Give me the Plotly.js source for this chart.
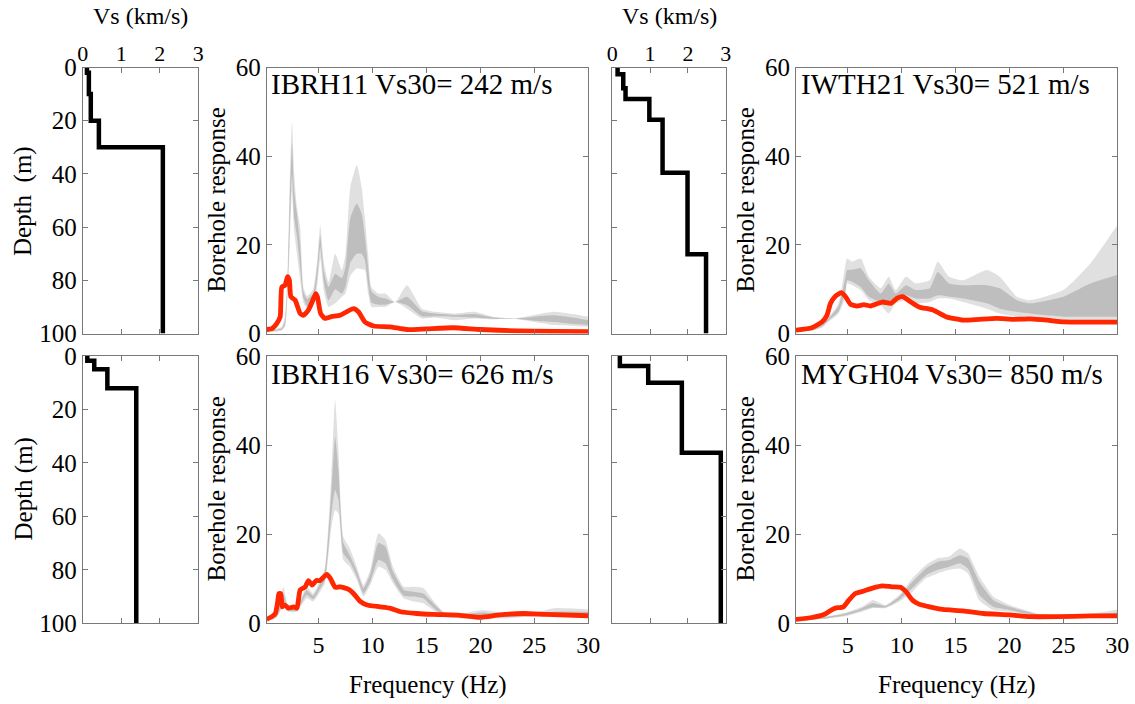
<!DOCTYPE html>
<html>
<head>
<meta charset="utf-8">
<script src="https://cdn.plot.ly/plotly-3.0.1.min.js"></script>
<style>html,body{margin:0;padding:0;background:#fff}#chart{width:1135px;height:704px}</style>
</head>
<body>
<div id="chart"></div>
<script>
// ---------------- Vs profiles (layer top depth in m, Vs in km/s) ----------------
const ibrh11Tops = [0, 2, 10, 20, 30];
const ibrh11Vs   = [0.11, 0.16, 0.21, 0.42, 2.08];
const iwth21Tops = [0, 2.5, 7.8, 11.8, 19.6, 39.6, 70.2];
const iwth21Vs   = [0.14, 0.29, 0.35, 0.98, 1.33, 1.99, 2.48];
const ibrh16Tops = [0, 1.8, 5, 12.1];
const ibrh16Vs   = [0.12, 0.3, 0.64, 1.39];
const mygh04Tops = [0, 3.7, 10, 36.2];
const mygh04Vs   = [0.2, 0.95, 1.84, 2.87];

// ---------------- Borehole response: IBRH11 ----------------
const ibrh11F       = [0.2, 1.0, 1.6, 1.9, 2.1, 2.3, 2.54, 2.75, 3.0, 3.3, 3.6, 3.95, 4.5, 4.9, 5.16, 5.5, 5.93, 6.55, 7.17, 7.5, 7.95, 8.55, 9.0, 9.3, 9.6, 9.9, 10.55, 11.2, 12.1, 13.2, 14.6, 15.8, 17.6, 19.4, 21.2, 23.1, 25.0, 26.8, 28.5, 30];
const ibrh11LightHi = [0.8, 1.0, 1.5, 4, 12, 30, 48, 36, 28.6, 24, 10.5, 8.5, 10, 17, 24.4, 16, 11.6, 18, 14.3, 18, 33, 38, 33, 26, 18, 10.5, 9.0, 9.0, 7.1, 10.9, 5.6, 4.9, 4.5, 4.9, 3.8, 3.4, 4.2, 4.9, 4.4, 3.8];
const ibrh11DarkHi  = [0.6, 0.8, 1.2, 3, 10, 26, 43, 32, 27, 20, 9.5, 7.8, 9, 15.5, 22.1, 14, 10.5, 13.5, 12.5, 15, 26, 29.3, 27, 21.8, 15, 9.5, 8.3, 7.9, 7.1, 8.3, 5.0, 4.5, 4.2, 4.4, 3.6, 3.4, 3.8, 4.1, 3.6, 3.0];
const ibrh11DarkLo  = [0.4, 0.6, 0.9, 2, 8, 20, 36, 26, 22, 15, 8, 6.2, 7, 13, 19.5, 11.5, 7.5, 10, 9, 10.5, 16, 18, 18, 16.5, 11, 7, 6.5, 6.5, 7.1, 6.4, 3.9, 3.9, 3.8, 3.6, 3.3, 3.3, 2.9, 2.6, 2.2, 1.9];
const ibrh11LightLo = [0.3, 0.4, 0.7, 1.5, 7, 18, 32, 23, 18, 12, 7, 5.5, 6, 11, 16.9, 9.5, 6, 6.8, 8.3, 9, 13, 14.7, 14.5, 14.3, 9, 6, 6, 6, 7.1, 5.6, 3.4, 3.6, 3.0, 3.4, 3.2, 3.3, 2.6, 1.9, 1.7, 1.5];
const ibrh11RedF = [0.2, 0.68, 1.14, 1.45, 1.6, 1.9, 2.13, 2.3, 2.44, 2.84, 3.3, 3.6, 4.07, 4.54, 4.75, 4.9, 5.2, 5.6, 6.2, 7.0, 7.6, 8.24, 8.7, 9.3, 10.1, 11.6, 13.2, 15.0, 17.5, 20, 23.4, 26.8, 30];
const ibrh11Red  = [0.9, 1.1, 2.3, 3.8, 10.5, 10.9, 12.8, 12, 8.3, 7.5, 4.5, 4.1, 5.3, 7.9, 9.0, 8.3, 4.5, 3.4, 3.8, 4.1, 4.9, 5.6, 4.9, 2.6, 1.7, 1.5, 0.9, 1.05, 1.3, 0.9, 0.6, 0.5, 0.4];

// ---------------- Borehole response: IWTH21 ----------------
const iwth21F       = [0.2, 1.7, 2.6, 3.2, 4.15, 4.8, 4.94, 5.4, 6.2, 6.96, 8.05, 8.8, 9.45, 10.4, 11.3, 12.6, 13.35, 14.4, 15.7, 17.9, 19.1, 20.7, 21.9, 25, 27.5, 30];
const iwth21LightHi = [0.7, 1.2, 2.3, 3.6, 6.8, 15.8, 16.9, 16.2, 16.9, 12.8, 10.2, 12.8, 9.8, 12.8, 11.3, 12, 16.2, 12.8, 12, 14.3, 12.8, 8.3, 7.5, 9.8, 15.8, 24.4];
const iwth21DarkHi  = [0.6, 1.0, 2.0, 3.3, 6.2, 12.8, 14.3, 14.4, 14.7, 12, 9.0, 11.3, 9.0, 10.9, 9.8, 10.2, 13.9, 11.3, 10.9, 10.9, 10.2, 7.5, 6.8, 8.3, 11.3, 13.2];
const iwth21DarkLo  = [0.5, 0.8, 1.6, 2.9, 5.0, 9.8, 12, 11.7, 10.5, 8.3, 7.1, 6.8, 7.5, 8.6, 7.9, 7.9, 8.6, 8.3, 7.9, 6.8, 5.6, 4.9, 4.5, 3.8, 3.8, 3.8];
const iwth21LightLo = [0.4, 0.6, 1.3, 2.6, 4.5, 8.3, 11.3, 10.9, 9.8, 7.5, 6.4, 4.5, 6.8, 7.5, 6.8, 7.1, 7.9, 7.9, 7.1, 5.6, 4.5, 3.8, 3.4, 3.0, 2.9, 2.9];
const iwth21RedF = [0.2, 1.67, 2.6, 3.07, 3.4, 3.85, 4.38, 4.8, 5.25, 5.87, 6.5, 7.1, 8.2, 9.0, 9.6, 10.1, 10.85, 11.6, 12.9, 14.1, 15.7, 17.2, 18.8, 20.4, 21.9, 23.5, 25, 27.5, 30];
const iwth21Red  = [0.75, 1.3, 2.6, 4.1, 6.8, 8.4, 9.2, 8.3, 6.6, 6.2, 6.5, 6.2, 7.1, 6.8, 8.0, 8.3, 7.1, 6.0, 5.3, 3.8, 3.0, 3.2, 3.4, 3.2, 3.3, 3.0, 2.6, 2.55, 2.55];

// ---------------- Borehole response: IBRH16 ----------------
const ibrh16F       = [0.2, 1.1, 1.76, 2.2, 3.0, 3.9, 4.5, 5.15, 5.6, 6.2, 6.54, 6.85, 7.3, 7.9, 8.55, 9.17, 9.8, 10.55, 11.2, 11.9, 12.9, 13.8, 14.7, 15.6, 16.6, 18.1, 20.3, 22.4, 24.9, 26.8, 30];
const ibrh16LightHi = [1.0, 2.0, 8.2, 3.7, 3.7, 8.2, 6.7, 9.7, 12.7, 33.7, 50.1, 38.9, 19.4, 16.8, 12.7, 8.6, 12, 20.2, 18.7, 12.7, 8.2, 8.2, 7.9, 5.2, 2.6, 2.2, 3.0, 2.2, 2.4, 3.4, 3.1];
const ibrh16DarkHi  = [0.9, 1.8, 6.5, 3.4, 3.4, 7.5, 6.2, 9.0, 11.8, 29.9, 41.9, 34.4, 18.0, 15.3, 11.8, 7.9, 11.0, 18.0, 17.2, 11.6, 7.5, 7.1, 6.7, 4.6, 2.3, 1.9, 2.4, 1.8, 2.1, 2.6, 2.6];
const ibrh16DarkLo  = [0.7, 1.4, 4.5, 2.9, 2.9, 6.4, 5.4, 7.8, 9.8, 24.7, 29.9, 27.7, 15.7, 13.8, 10.5, 6.7, 9.4, 14.2, 13.5, 9.8, 6.2, 6.0, 5.6, 3.6, 1.8, 1.4, 1.5, 1.4, 1.7, 2.0, 2.2];
const ibrh16LightLo = [0.6, 1.2, 3.7, 2.6, 2.6, 5.6, 4.9, 7.1, 9.0, 21.7, 25.4, 24.7, 14.2, 12.7, 9.7, 6.0, 8.6, 12.7, 12.0, 9.0, 5.6, 4.9, 4.5, 3.0, 1.5, 1.1, 1.1, 1.1, 1.5, 1.6, 1.9];
const ibrh16RedF = [0.2, 0.68, 1.0, 1.2, 1.33, 1.5, 1.64, 1.9, 2.2, 2.7, 3.0, 3.3, 3.77, 4.07, 4.4, 4.8, 5.15, 5.77, 6.1, 6.54, 7.0, 7.8, 8.24, 8.86, 9.5, 10.7, 11.6, 12.6, 14.1, 15.6, 18.1, 20, 21.8, 24.0, 26.1, 30];
const ibrh16Red  = [0.9, 1.5, 2.2, 4.5, 6.7, 6.7, 3.7, 4.1, 3.4, 3.7, 3.4, 7.5, 8.2, 9.6, 8.6, 9.6, 9.6, 11, 10.1, 8.1, 8.2, 7.6, 6.7, 4.9, 4.1, 3.7, 3.4, 2.6, 2.2, 2.0, 1.8, 1.35, 1.9, 2.2, 2.0, 1.7];

// ---------------- Borehole response: MYGH04 ----------------
const mygh04F       = [0.2, 3.2, 4.8, 6.3, 7.3, 8.5, 9.8, 11.0, 12.25, 13.35, 14.4, 15.4, 16.15, 17.2, 18.5, 20.0, 21.3, 22.8, 25, 27.5, 30];
const mygh04LightHi = [0.8, 1.6, 2.4, 3.7, 5.2, 4.1, 6.4, 10.1, 13.1, 14.6, 15.0, 16.8, 15.7, 10.5, 6.0, 4.1, 3.1, 2.1, 1.6, 2.1, 3.1];
const mygh04DarkHi  = [0.7, 1.5, 2.2, 3.4, 4.5, 3.9, 6.0, 9.3, 12.3, 13.8, 14.2, 15.3, 14.6, 9.3, 5.2, 3.7, 2.8, 1.9, 1.5, 1.9, 2.4];
const mygh04DarkLo  = [0.5, 1.2, 1.8, 2.9, 3.6, 3.6, 5.3, 7.9, 10.8, 12.0, 12.7, 13.5, 12.3, 6.4, 3.7, 3.0, 2.3, 1.6, 1.3, 1.6, 1.8];
const mygh04LightLo = [0.4, 1.1, 1.6, 2.6, 3.4, 3.4, 4.9, 7.1, 10.1, 11.2, 12.0, 12.3, 11.2, 5.2, 3.0, 2.6, 2.1, 1.5, 1.2, 1.5, 1.6];
const mygh04RedF = [0.2, 1.67, 2.9, 3.5, 3.85, 4.6, 5.1, 5.7, 6.3, 7.3, 8.2, 9.1, 9.9, 10.4, 11.0, 11.6, 12.6, 13.8, 15.7, 17.6, 20.0, 21.9, 24.4, 27.5, 30];
const mygh04Red  = [0.9, 1.3, 2.1, 3.0, 3.4, 3.7, 5.2, 6.7, 7.1, 7.9, 8.4, 8.2, 8.1, 7.1, 5.2, 4.3, 3.7, 3.1, 2.8, 2.2, 1.9, 1.5, 1.5, 1.65, 1.65];

// ---------------- text ----------------
const stationLabels = ["IBRH11 Vs30= 242 m/s", "IWTH21 Vs30= 521 m/s", "IBRH16 Vs30= 626 m/s", "MYGH04 Vs30= 850 m/s"];
const vsTitle = "Vs (km/s)";
const depthTitles = ["Depth  (m)", "Depth (m)"];
const respTitle = "Borehole response";
const freqTitle = "Frequency (Hz)";

// ---------------- build ----------------
const W = 1135, H = 704;
const FONT = "Liberation Serif, Times New Roman, serif";
const RED = "rgb(255,38,0)";
const LIGHT = "rgb(224,224,224)";
const DARK = "rgb(190,190,190)";
const FRAME = "rgb(120,120,120)";

function px(a, b) { return [a / W, b / W]; }
function py(top, bottom) { return [1 - bottom / H, 1 - top / H]; }

const cols = { vsL: px(82.7, 198.3), rL: px(266.7, 588.3), vsR: px(612.3, 725.7), rR: px(796, 1117.3) };
const rows = { top: py(67.5, 333.5), bot: py(356, 623.3) };

function profileTrace(tops, vs, ax) {
  return {
    x: vs.concat([vs[vs.length - 1]]),
    y: tops.concat([100]),
    mode: "lines", line: { color: "black", width: 4.5, shape: "vh" },
    xaxis: "x" + ax, yaxis: "y" + ax, showlegend: false, hoverinfo: "skip"
  };
}
function bandTraces(f, lo, hi, color, ax) {
  const base = { x: f, mode: "lines", line: { width: 0, shape: "spline", smoothing: 0.5 },
    xaxis: "x" + ax, yaxis: "y" + ax, showlegend: false, hoverinfo: "skip" };
  return [
    Object.assign({}, base, { y: lo }),
    Object.assign({}, base, { y: hi, fill: "tonexty", fillcolor: color })
  ];
}
function redTrace(f, v, ax) {
  return { x: f, y: v, mode: "lines", line: { color: RED, width: 4.8, shape: "spline", smoothing: 0.5 },
    xaxis: "x" + ax, yaxis: "y" + ax, showlegend: false, hoverinfo: "skip" };
}
function respSet(f, lLo, lHi, dLo, dHi, rf, r, ax) {
  return [].concat(bandTraces(f, lLo, lHi, LIGHT, ax), bandTraces(f, dLo, dHi, DARK, ax), [redTrace(rf, r, ax)]);
}

const data = [].concat(
  [profileTrace(ibrh11Tops, ibrh11Vs, "")],
  respSet(ibrh11F, ibrh11LightLo, ibrh11LightHi, ibrh11DarkLo, ibrh11DarkHi, ibrh11RedF, ibrh11Red, "2"),
  [profileTrace(iwth21Tops, iwth21Vs, "3")],
  respSet(iwth21F, iwth21LightLo, iwth21LightHi, iwth21DarkLo, iwth21DarkHi, iwth21RedF, iwth21Red, "4"),
  [profileTrace(ibrh16Tops, ibrh16Vs, "5")],
  respSet(ibrh16F, ibrh16LightLo, ibrh16LightHi, ibrh16DarkLo, ibrh16DarkHi, ibrh16RedF, ibrh16Red, "6"),
  [profileTrace(mygh04Tops, mygh04Vs, "7")],
  respSet(mygh04F, mygh04LightLo, mygh04LightHi, mygh04DarkLo, mygh04DarkHi, mygh04RedF, mygh04Red, "8")
);

const axCommon = { showline: true, mirror: "allticks", linecolor: FRAME, linewidth: 1, ticks: "inside",
  ticklen: 5, tickcolor: FRAME, showgrid: false, zeroline: false, fixedrange: true,
  tickfont: { family: FONT, size: 25, color: "black" } };

function vsX(domain, labels, anchor) {
  return Object.assign({}, axCommon, { domain: domain, range: [0, 3], dtick: 1, tick0: 0, side: "top",
    showticklabels: labels, anchor: anchor, ticklabelstandoff: -3,
    tickfont: { family: FONT, size: 22, color: "black" } });
}
function vsY(domain, anchor) {
  return Object.assign({}, axCommon, { domain: domain, range: [100, 0], dtick: 20, tick0: 0, anchor: anchor });
}
function rX(domain, labels, anchor) {
  return Object.assign({}, axCommon, { domain: domain, range: [0.2, 30], dtick: 5, tick0: 0,
    showticklabels: labels, anchor: anchor, tickfont: { family: FONT, size: 24, color: "black" } });
}
function rY(domain, anchor) {
  return Object.assign({}, axCommon, { domain: domain, range: [0, 60], dtick: 20, tick0: 0, anchor: anchor });
}

function ann(text, x, y, size, opts) {
  return Object.assign({ text: text, xref: "paper", yref: "paper", x: x / W, y: 1 - y / H, showarrow: false,
    font: { family: FONT, size: size, color: "black" }, xanchor: "center", yanchor: "middle" }, opts || {});
}

const annotations = [
  ann(vsTitle, 140.5, 16, 24),
  ann(vsTitle, 669, 16, 24),
  ann(stationLabels[0], 269, 84, 29, { xanchor: "left" }),
  ann(stationLabels[1], 799, 84, 29, { xanchor: "left" }),
  ann(stationLabels[2], 269, 374, 29, { xanchor: "left" }),
  ann(stationLabels[3], 799, 374, 29, { xanchor: "left" }),
  ann(respTitle, 216, 200.5, 25, { textangle: -90 }),
  ann(respTitle, 745, 200.5, 25, { textangle: -90 }),
  ann(respTitle, 216, 489.5, 25, { textangle: -90 }),
  ann(respTitle, 745, 489.5, 25, { textangle: -90 }),
  ann(depthTitles[0], 23, 201, 25, { textangle: -90 }),
  ann(depthTitles[1], 23, 489.5, 25, { textangle: -90 }),
  ann(freqTitle, 427.5, 685, 25),
  ann(freqTitle, 957, 685, 25)
];

const layout = {
  width: W, height: H, margin: { l: 0, r: 0, t: 0, b: 0 },
  paper_bgcolor: "white", plot_bgcolor: "white", showlegend: false,
  font: { family: FONT, color: "black" },
  xaxis: vsX(cols.vsL, true, "y"), yaxis: vsY(rows.top, "x"),
  xaxis2: rX(cols.rL, false, "y2"), yaxis2: rY(rows.top, "x2"),
  xaxis3: vsX(cols.vsR, true, "y3"), yaxis3: Object.assign(vsY(rows.top, "x3"), { showticklabels: false }),
  xaxis4: rX(cols.rR, false, "y4"), yaxis4: rY(rows.top, "x4"),
  xaxis5: vsX(cols.vsL, false, "y5"), yaxis5: vsY(rows.bot, "x5"),
  xaxis6: rX(cols.rL, true, "y6"), yaxis6: rY(rows.bot, "x6"),
  xaxis7: vsX(cols.vsR, false, "y7"), yaxis7: Object.assign(vsY(rows.bot, "x7"), { showticklabels: false }),
  xaxis8: rX(cols.rR, true, "y8"), yaxis8: rY(rows.bot, "x8"),
  annotations: annotations
};

Plotly.newPlot("chart", data, layout, { staticPlot: true, displayModeBar: false });
</script>
</body>
</html>
